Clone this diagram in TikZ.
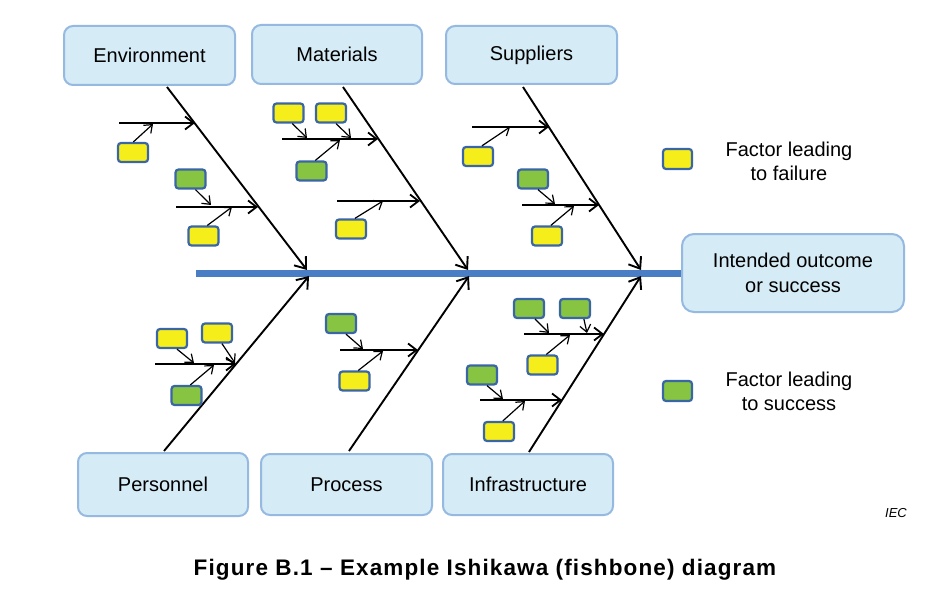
\documentclass[tikz,border=0pt]{standalone}
\usepackage{fontspec}
\setmainfont{Liberation Sans}
\newfontfamily\capfont[LetterSpace=5]{Liberation Sans}
\usetikzlibrary{arrows.meta,calc}
\definecolor{boxfill}{HTML}{D5EBF5}
\definecolor{boxline}{HTML}{95B9E0}
\definecolor{spinec}{HTML}{4A7EC4}
\definecolor{fyel}{HTML}{F5EE1B}
\definecolor{fgrn}{HTML}{86C441}
\definecolor{fline}{HTML}{3A66A6}
\begin{document}
\begin{tikzpicture}[x=1pt,y=-1pt,
 cat/.style={draw=boxline, line width=2pt, fill=boxfill, rounded corners=9pt, inner sep=0pt, font=\fontsize{20}{25}\selectfont, align=center},
 fail/.style={draw=fline, line width=2.2pt, fill=fyel, rounded corners=3pt, minimum width=30pt, minimum height=19pt, inner sep=0pt},
 succ/.style={fail, fill=fgrn},
 bone/.style={line width=1.9pt, -{Straight Barb[length=10pt,width=15pt]}},
 rib/.style={line width=1.8pt, -{Straight Barb[length=8.5pt,width=13pt]}},
 twig/.style={line width=1.2pt, -{Straight Barb[length=7pt,width=11pt]}},
 lbl/.style={font=\fontsize{20}{24}\selectfont, align=center}
]
\useasboundingbox (0,0) rectangle (943,599);
% category boxes
\node[cat, minimum width=171pt, minimum height=59pt] (env) at (149.5,55.5) {Environment};
\node[cat, minimum width=170pt, minimum height=59pt] (mat) at (337,54.5) {Materials};
\node[cat, minimum width=171pt, minimum height=58pt] (sup) at (531.5,55) {Suppliers};
\node[cat, minimum width=170pt, minimum height=63pt] (per) at (163,484.5) {Personnel};
\node[cat, minimum width=171pt, minimum height=61pt] (pro) at (346.5,484.5) {Process};
\node[cat, minimum width=170pt, minimum height=61pt] (inf) at (528,484.5) {Infrastructure};
\node[cat, minimum width=222pt, minimum height=78pt, rounded corners=12pt] (out) at (793,273) {Intended outcome\\or success};
% spine
\coordinate (sp0) at (196,273);
\draw[spinec, line width=7pt] (sp0) -- (out.west);
% main bones
\coordinate (e0) at (167,87);  \coordinate (e1) at (307,270);
\coordinate (m0) at (343,87);  \coordinate (m1) at (468,270);
\coordinate (s0) at (523,87);  \coordinate (s1) at (641,270);
\coordinate (p0) at (164,451); \coordinate (p1) at (309,276);
\coordinate (r0) at (349,451); \coordinate (r1) at (469,276);
\coordinate (i0) at (529,452); \coordinate (i1) at (641,276);
\foreach \a/\b in {e0/e1,m0/m1,s0/s1,p0/p1,r0/r1,i0/i1} \draw[bone] (\a) -- (\b);
% ribs
\coordinate (ea0) at (119,123); \coordinate (ea1) at (195,123);
\coordinate (eb0) at (176,207); \coordinate (eb1) at (258,207);
\coordinate (ma0) at (282,139); \coordinate (ma1) at (378,139);
\coordinate (mb0) at (337,201); \coordinate (mb1) at (420,201);
\coordinate (sa0) at (472,127); \coordinate (sa1) at (549,127);
\coordinate (sb0) at (522,205); \coordinate (sb1) at (599,205);
\coordinate (pa0) at (155,364); \coordinate (pa1) at (236,364);
\coordinate (ra0) at (340,350); \coordinate (ra1) at (418,350);
\coordinate (ia0) at (524,334); \coordinate (ia1) at (604,334);
\coordinate (ib0) at (480,400); \coordinate (ib1) at (562,400);
\foreach \a/\b in {ea0/ea1,eb0/eb1,ma0/ma1,mb0/mb1,sa0/sa1,sb0/sb1,pa0/pa1,ra0/ra1,ia0/ia1,ib0/ib1} \draw[rib] (\a) -- (\b);
% factor boxes
\node[fail] (ey1) at (133,152.5) {};
\node[succ] (eg1) at (190.5,179) {};
\node[fail] (ey2) at (203.5,236) {};
\node[fail] (my1) at (288.5,113) {};
\node[fail] (my2) at (331,113) {};
\node[succ] (mg1) at (311.5,171) {};
\node[fail] (my3) at (351,229) {};
\node[fail] (sy1) at (478,156.5) {};
\node[succ] (sg1) at (533,179) {};
\node[fail] (sy2) at (547,236) {};
\node[fail] (py1) at (172,338.5) {};
\node[fail] (py2) at (217,333) {};
\node[succ] (pg1) at (186.5,395.5) {};
\node[succ] (rg1) at (341,323.5) {};
\node[fail] (ry1) at (354.5,381) {};
\node[succ] (ig1) at (529,308.5) {};
\node[succ] (ig2) at (575,308.5) {};
\node[fail] (iy1) at (542.5,365) {};
\node[succ] (ig3) at (482,375) {};
\node[fail] (iy2) at (499,431.5) {};
% twig targets
\coordinate (tey1) at (153,124); \coordinate (teg1) at (211,205); \coordinate (tey2) at (232,207);
\coordinate (tmy1) at (307,138); \coordinate (tmy2) at (351,138); \coordinate (tmg1) at (340,140); \coordinate (tmy3) at (383,201);
\coordinate (tsy1) at (510,127); \coordinate (tsg1) at (555,204); \coordinate (tsy2) at (574,206);
\coordinate (tpy1) at (194,363); \coordinate (tpy2) at (235,363); \coordinate (tpg1) at (214,365);
\coordinate (trg1) at (363,349); \coordinate (try1) at (383,351);
\coordinate (tig1) at (549,333); \coordinate (tig2) at (587,333); \coordinate (tiy1) at (570,335);
\coordinate (tig3) at (503,399); \coordinate (tiy2) at (525,401);
\foreach \n/\ang in {ey1/88,eg1/-65,ey2/70,my1/-70,my2/-65,mg1/70,my3/70,sy1/70,sg1/-65,sy2/70,py1/-65,py2/-65,pg1/70,rg1/-65,ry1/70,ig1/-60,ig2/-50,iy1/70,ig3/-65,iy2/70}
  \draw[twig] (\n.\ang) -- (t\n);
% legend
\node[fail, minimum width=29pt, minimum height=20pt] (lgy) at (677.5,159) {};
\node[lbl] (lgyt) at (789,161) {Factor leading\\to failure};
\node[succ, minimum width=29pt, minimum height=20pt] (lgg) at (677.5,391) {};
\node[lbl] (lggt) at (789,391.5) {Factor leading\\to success};
% IEC and caption
\node[font=\fontsize{13}{15}\selectfont\itshape] (iec) at (896,513) {IEC};
\node[font=\fontsize{22.5}{26}\selectfont\capfont\bfseries] (cap) at (485,570) {Figure B.1 – Example Ishikawa (fishbone) diagram};
\end{tikzpicture}
\end{document}
